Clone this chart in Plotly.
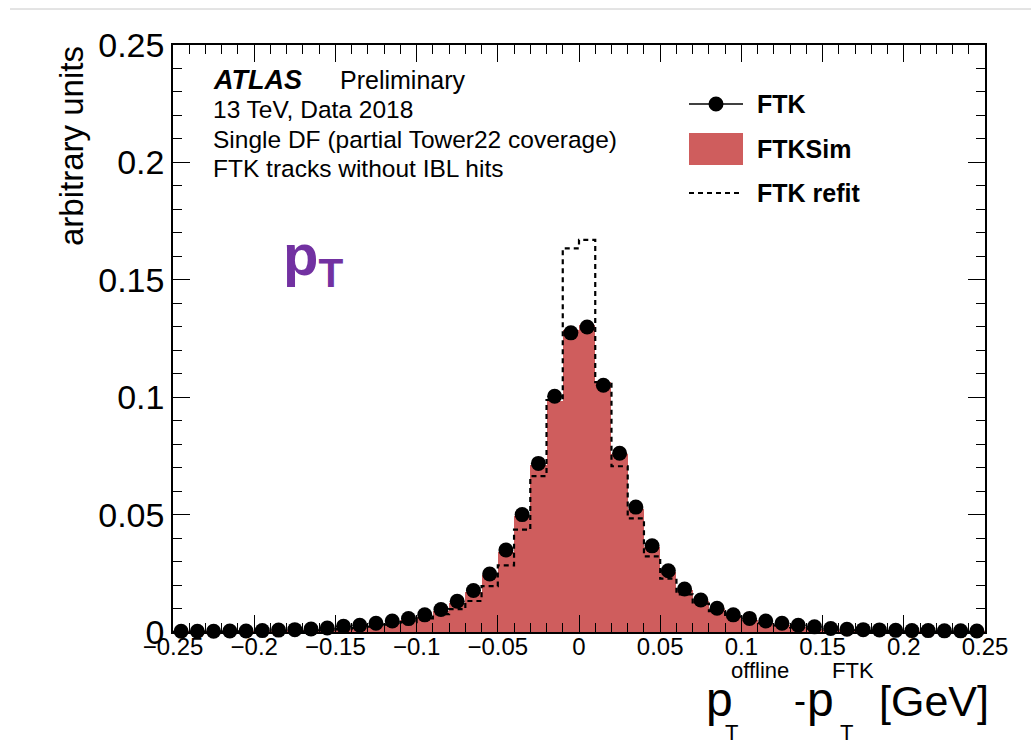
import numpy as np
import plotly.graph_objects as go

# ---- histogram content: 50 bins of width 0.01 GeV between -0.25 and 0.25 ----
bin_width = 0.01
bin_centers = [
    -0.245, -0.235, -0.225, -0.215, -0.205, -0.195, -0.185, -0.175, -0.165, -0.155,
    -0.145, -0.135, -0.125, -0.115, -0.105, -0.095, -0.085, -0.075, -0.065, -0.055,
    -0.045, -0.035, -0.025, -0.015, -0.005, 0.005, 0.015, 0.025, 0.035, 0.045,
    0.055, 0.065, 0.075, 0.085, 0.095, 0.105, 0.115, 0.125, 0.135, 0.145,
    0.155, 0.165, 0.175, 0.185, 0.195, 0.205, 0.215, 0.225, 0.235, 0.245,
]

ftk = [
    0.0003, 0.0003, 0.0003, 0.0004, 0.0004, 0.0006, 0.0008, 0.0010, 0.0013, 0.0017,
    0.0024, 0.0029, 0.0037, 0.0047, 0.0057, 0.0073, 0.0096, 0.0131, 0.0177, 0.0247,
    0.0349, 0.0500, 0.0718, 0.1004, 0.1274, 0.1299, 0.1051, 0.0761, 0.0532, 0.0367,
    0.0261, 0.0183, 0.0136, 0.0101, 0.0073, 0.0058, 0.0047, 0.0037, 0.0029, 0.0022,
    0.0015, 0.0012, 0.0010, 0.0009, 0.0007, 0.0006, 0.0006, 0.0005, 0.0005, 0.0004,
]

ftk_sim = [
    0.0001, 0.0001, 0.0002, 0.0002, 0.0002, 0.0003, 0.0004, 0.0005, 0.0007, 0.0010,
    0.0014, 0.0019, 0.0026, 0.0036, 0.0049, 0.0066, 0.0089, 0.0123, 0.0172, 0.0242,
    0.0342, 0.0492, 0.0712, 0.0985, 0.1285, 0.1308, 0.1064, 0.0760, 0.0525, 0.0362,
    0.0256, 0.0180, 0.0130, 0.0096, 0.0070, 0.0053, 0.0040, 0.0029, 0.0021, 0.0014,
    0.0010, 0.0007, 0.0005, 0.0004, 0.0003, 0.0002, 0.0002, 0.0002, 0.0001, 0.0001,
]

ftk_refit = [
    0.0001, 0.0001, 0.0001, 0.0002, 0.0002, 0.0002, 0.0003, 0.0004, 0.0006, 0.0008,
    0.0012, 0.0017, 0.0023, 0.0031, 0.0042, 0.0058, 0.0076, 0.0097, 0.0132, 0.0195,
    0.0284, 0.0436, 0.0664, 0.0988, 0.1634, 0.1670, 0.1064, 0.0706, 0.0484, 0.0322,
    0.0227, 0.0160, 0.0121, 0.0089, 0.0066, 0.0050, 0.0038, 0.0028, 0.0020, 0.0014,
    0.0010, 0.0007, 0.0005, 0.0004, 0.0003, 0.0002, 0.0002, 0.0001, 0.0001, 0.0001,
]

x_tickvals = [-0.25, -0.2, -0.15, -0.1, -0.05, 0, 0.05, 0.1, 0.15, 0.2, 0.25]
x_ticktext = ["\u22120.25", "\u22120.2", "\u22120.15", "\u22120.1", "\u22120.05", "0",
              "0.05", "0.1", "0.15", "0.2", "0.25"]
y_tickvals = [0, 0.05, 0.1, 0.15, 0.2, 0.25]
y_ticktext = ["0", "0.05", "0.1", "0.15", "0.2", "0.25"]

legend_entries = ["FTK", "FTKSim", "FTK refit"]
info_lines = ["13 TeV, Data 2018",
              "Single DF (partial Tower22 coverage)",
              "FTK tracks without IBL hits"]

SIM_RED = "#cf5d5d"
PURPLE = "#7231a1"
FONT = "Liberation Sans, Arial, Helvetica, sans-serif"

W, H = 1031, 746
ML, MR, MT, MB = 173, 46, 45, 114
PW, PH = W - ML - MR, H - MT - MB


def px(xp):
    """pixel column -> paper x"""
    return (xp - ML) / PW


def py(yp):
    """pixel row -> paper y"""
    return (MT + PH - yp) / PH


# step outline for the refit histogram
centers = np.array(bin_centers)
edges = np.concatenate([centers - bin_width / 2, [centers[-1] + bin_width / 2]])
step_x = np.repeat(edges, 2)[1:-1]
step_y = np.repeat(np.array(ftk_refit), 2)

fig = go.Figure()

fig.add_trace(go.Bar(
    x=bin_centers, y=ftk_sim, width=bin_width,
    marker=dict(color=SIM_RED, line=dict(width=0)),
    name="FTKSim", showlegend=False,
))

fig.add_trace(go.Scatter(
    x=step_x, y=step_y, mode="lines",
    line=dict(color="black", width=2.2, dash="5px,4px"),
    name="FTK refit", showlegend=False,
))

fig.add_trace(go.Scatter(
    x=bin_centers, y=ftk, mode="markers",
    marker=dict(color="black", size=15, line=dict(width=0)),
    cliponaxis=False, name="FTK", showlegend=False,
))

axis_common = dict(
    showline=True, linecolor="black", linewidth=1.5, mirror="allticks",
    ticks="inside", ticklen=17, tickwidth=1.3, tickcolor="black",
    showgrid=False, zeroline=False,
    minor=dict(ticks="inside", ticklen=9, tickwidth=1.3, tickcolor="black",
               dtick=0.01, showgrid=False),
)

fig.update_xaxes(
    range=[-0.25, 0.25], tickmode="array", tickvals=x_tickvals, ticktext=x_ticktext,
    tickfont=dict(family=FONT, size=24, color="black"), ticklabelstandoff=-8,
    **axis_common,
)
fig.update_yaxes(
    range=[0, 0.25], tickmode="array", tickvals=y_tickvals, ticktext=y_ticktext,
    tickfont=dict(family=FONT, size=34, color="black"), **axis_common,
)

ann = []


def text(xp, yp, s, size, color="black", xanchor="left", yanchor="middle", **kw):
    ann.append(dict(x=px(xp), y=py(yp), xref="paper", yref="paper", text=s,
                    showarrow=False, xanchor=xanchor, yanchor=yanchor, borderpad=0,
                    font=dict(family=FONT, size=size, color=color), **kw))


def on_baseline(xp, base, s, size, **kw):
    text(xp, base - 0.347 * size, s, size, **kw)


# y-axis title
text(71, 45, "arbitrary units", 33, xanchor="center", yanchor="top", textangle=-90)

# x-axis title assembled from pieces so sub/superscripts stack
on_baseline(705, 716, "p", 48)
on_baseline(730, 678, "offline", 22)
on_baseline(724, 740, "T", 22)
on_baseline(793, 713, "-", 36)
on_baseline(806, 716, "p", 48)
on_baseline(831, 678, "FTK", 22)
on_baseline(839, 740, "T", 22)
on_baseline(878, 716, "[GeV]", 43)

# experiment label block
on_baseline(212, 89, "<b><i>ATLAS</i></b>", 27)
on_baseline(339, 89, "Preliminary", 25)
for i, line in enumerate(info_lines):
    on_baseline(212, 118.5 + 29.3 * i, line, 24.5)

# quantity label
text(313, 259, "<b>p<sub>T</sub></b>", 58, color=PURPLE, xanchor="center")

# legend
shapes = []
row_y = [104, 149, 193]
# FTK: marker with horizontal bar
shapes.append(dict(type="line", xref="paper", yref="paper",
                   x0=px(689), x1=px(743), y0=py(row_y[0]), y1=py(row_y[0]),
                   line=dict(color="black", width=1.5)))
shapes.append(dict(type="circle", xref="paper", yref="paper",
                   x0=px(716 - 7.5), x1=px(716 + 7.5),
                   y0=py(row_y[0] - 7.5), y1=py(row_y[0] + 7.5),
                   fillcolor="black", line=dict(width=0)))
# FTKSim: filled box
shapes.append(dict(type="rect", xref="paper", yref="paper",
                   x0=px(689), x1=px(743), y0=py(row_y[1] - 16), y1=py(row_y[1] + 16),
                   fillcolor=SIM_RED, line=dict(width=0)))
# FTK refit: dashed line
shapes.append(dict(type="line", xref="paper", yref="paper",
                   x0=px(689), x1=px(740), y0=py(row_y[2]), y1=py(row_y[2]),
                   line=dict(color="black", width=2.2, dash="5px,4px")))
for label, yy in zip(legend_entries, row_y):
    text(756, yy, "<b>" + label + "</b>", 25)

# thin page frame line
shapes.append(dict(type="line", xref="paper", yref="paper",
                   x0=px(10), x1=px(1031), y0=py(9), y1=py(9),
                   line=dict(color="#c8c8c8", width=1)))

fig.update_layout(
    width=W, height=H,
    margin=dict(l=ML, r=MR, t=MT, b=MB, pad=0),
    paper_bgcolor="white", plot_bgcolor="white",
    bargap=0, showlegend=False,
    annotations=ann, shapes=shapes,
    font=dict(family=FONT, color="black"),
)

fig.write_html("out.html")
